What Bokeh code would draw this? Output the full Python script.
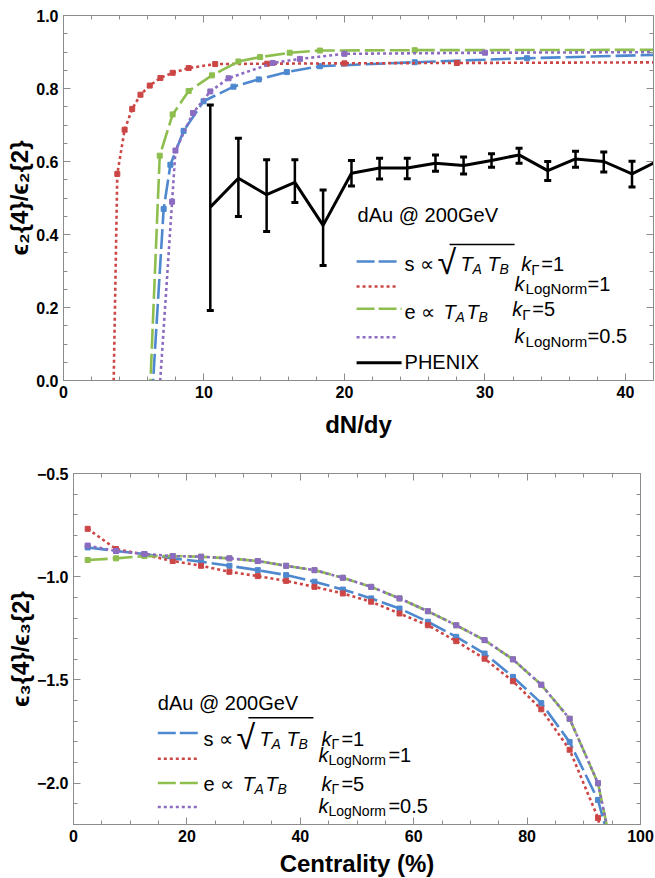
import numpy as np
from bokeh.plotting import figure
from bokeh.models import (LinearAxis, FixedTicker, Range1d, Label, Arrow,
                          Whisker, TeeHead, ColumnDataSource, BoxAnnotation)
from bokeh.embed import file_html
from bokeh.resources import INLINE

# ------------------------------------------------------------------ data (top)
red_x = [3.55, 3.83, 4.35, 4.89, 5.48, 6.14, 6.90, 7.77, 8.91, 10.8, 14.5, 20.0, 28.0, 45.0]
red_y = [-0.05, 0.566, 0.687, 0.744, 0.783, 0.808, 0.829, 0.843, 0.856, 0.867, 0.868, 0.869, 0.870, 0.872]
green_x = [6.14, 6.85, 7.77, 8.91, 10.57, 12.45, 14.0, 16.1, 18.25, 25.0, 45.0]
green_y = [-0.05, 0.616, 0.729, 0.793, 0.836, 0.874, 0.886, 0.898, 0.904, 0.905, 0.906]
blue_x = [6.30, 7.13, 7.61, 8.55, 9.97, 12.1, 13.9, 15.9, 18.25, 25.0, 33.0, 45.0]
blue_y = [-0.05, 0.470, 0.591, 0.684, 0.765, 0.805, 0.825, 0.845, 0.861, 0.872, 0.883, 0.895]
purple_x = [6.80, 7.73, 7.97, 9.22, 10.45, 11.75, 14.9, 16.83, 20.0, 30.0, 45.0]
purple_y = [-0.05, 0.490, 0.630, 0.733, 0.792, 0.828, 0.870, 0.881, 0.895, 0.898, 0.900]

ph_x = [10.45, 12.45, 14.46, 16.47, 18.48, 20.5, 22.5, 24.47, 26.48, 28.48, 30.47, 32.43, 34.47, 36.45, 38.46, 40.47, 42.48]
ph_y = [0.475, 0.554, 0.509, 0.543, 0.425, 0.568, 0.582, 0.582, 0.595, 0.589, 0.603, 0.618, 0.575, 0.607, 0.600, 0.566, 0.605]
ph_up = [0.755, 0.664, 0.605, 0.605, 0.522, 0.603, 0.609, 0.609, 0.618, 0.612, 0.621, 0.636, 0.600, 0.628, 0.626, 0.601, 0.635]
ph_lo = [0.192, 0.449, 0.408, 0.488, 0.315, 0.533, 0.552, 0.553, 0.573, 0.566, 0.584, 0.595, 0.548, 0.584, 0.571, 0.530, 0.575]

top_xticks = [0, 10, 20, 30, 40]
top_xlabels = ["0", "10", "20", "30", "40"]
top_yticks = [0.0, 0.2, 0.4, 0.6, 0.8, 1.0]
top_ylabels = ["0.0", "0.2", "0.4", "0.6", "0.8", "1.0"]

# ------------------------------------------------------------------ data (bottom)
cent = [2.5, 7.5, 12.5, 17.5, 22.5, 27.5, 32.5, 37.5, 42.5, 47.5, 52.5, 57.5, 62.5,
        67.5, 72.5, 77.5, 82.5, 87.5, 92.5]
b_blue = [-0.858, -0.875, -0.890, -0.911, -0.927, -0.947, -0.968, -0.992, -1.024, -1.062,
          -1.105, -1.154, -1.218, -1.291, -1.372, -1.485, -1.612, -1.801, -2.081]
b_red = [-0.768, -0.866, -0.893, -0.924, -0.947, -0.976, -0.997, -1.020, -1.049, -1.081,
         -1.121, -1.178, -1.235, -1.312, -1.397, -1.506, -1.642, -1.838, -2.168]
b_green = [-0.919, -0.911, -0.900, -0.900, -0.903, -0.911, -0.924, -0.947, -0.968, -1.005,
           -1.049, -1.105, -1.167, -1.235, -1.307, -1.400, -1.523, -1.688, -2.000]
b_purple = [-0.849, -0.875, -0.890, -0.900, -0.903, -0.911, -0.924, -0.947, -0.968, -1.005,
            -1.049, -1.105, -1.167, -1.235, -1.307, -1.400, -1.523, -1.688, -2.000]
# where each curve leaves the frame at the bottom
b_blue_end = (94.2, -2.25)
b_red_end = (93.1, -2.25)
b_green_end = (94.4, -2.25)
b_purple_end = (94.4, -2.25)

bot_xticks = [0, 20, 40, 60, 80, 100]
bot_xlabels = ["0", "20", "40", "60", "80", "100"]
bot_yticks = [-2.0, -1.5, -1.0, -0.5]
bot_ylabels = ["\u22122.0", "\u22121.5", "\u22121.0", "\u22120.5"]

# ------------------------------------------------------------------ style
FONT = "Liberation Sans"
GRAY = "#8c8c8c"
BLUE = "#4E88CF"
RED = "#CC4646"
GREEN = "#8DBE4E"
PURPLE = "#8C6CC0"
DASH = "20 5"
DOT = "3 3"
LW = 2.6


def style_axis(ax):
    ax.axis_line_color = GRAY
    ax.major_tick_line_color = GRAY
    ax.minor_tick_line_color = GRAY
    ax.major_tick_in = 7
    ax.major_tick_out = 0
    ax.minor_tick_in = 4
    ax.minor_tick_out = 0
    ax.major_label_text_font = FONT
    ax.major_label_text_font_style = "bold"
    ax.major_label_text_font_size = "16px"
    ax.major_label_text_color = "black"
    ax.major_label_standoff = 5
    ax.axis_label_text_font = FONT
    ax.axis_label_text_font_style = "bold"
    ax.axis_label_text_font_size = "24px"
    ax.axis_label_text_color = "black"


def tick_only_axis(p, side, positions, length):
    # an axis without major ticks: only (unlabelled) minor ticks at the given positions
    ax = LinearAxis(ticker=FixedTicker(ticks=[], minor_ticks=positions))
    ax.axis_line_color = GRAY
    ax.minor_tick_line_color = GRAY
    ax.minor_tick_in = length
    ax.minor_tick_out = 0
    ax.major_tick_in = 0
    ax.major_tick_out = 0
    ax.major_label_standoff = 0
    p.add_layout(ax, side)


def frame_axes(p, xt, xminor, xlab, yt, yminor, ylab, xtitle, ytitle, xstand, ystand):
    p.xaxis.ticker = FixedTicker(ticks=xt, minor_ticks=xminor)
    p.yaxis.ticker = FixedTicker(ticks=yt, minor_ticks=yminor)
    p.xaxis.major_label_overrides = {float(t): s for t, s in zip(xt, xlab)}
    p.yaxis.major_label_overrides = {float(t): s for t, s in zip(yt, ylab)}
    style_axis(p.xaxis[0])
    style_axis(p.yaxis[0])
    p.xaxis.axis_label = xtitle
    p.yaxis.axis_label = ytitle
    p.xaxis.axis_label_standoff = xstand
    p.yaxis.axis_label_standoff = ystand
    tick_only_axis(p, "above", [float(t) for t in xt], 7)
    tick_only_axis(p, "above", xminor, 4)
    tick_only_axis(p, "right", [float(t) for t in yt], 7)
    tick_only_axis(p, "right", yminor, 4)
    p.grid.visible = False
    p.outline_line_color = GRAY
    p.background_fill_color = "white"


def piece(p, ax, ay, dx, dy, text, size=20, style="normal"):
    p.add_layout(Label(x=ax, y=ay, x_offset=dx, y_offset=-dy, text=text,
                       text_font=FONT, text_font_size=f"{size}px",
                       text_font_style=style, text_color="black",
                       text_baseline="middle", text_align="left"))


def overbar(p, ax, ay, sx, sy, dx1, dx2, dy):
    p.add_layout(BoxAnnotation(left=ax + dx1 / sx, right=ax + dx2 / sx,
                               top=ay - (dy - 0.7) / sy, bottom=ay - (dy + 0.7) / sy,
                               fill_color="black", fill_alpha=1.0, line_color=None))


def key_line(p, ax, ay, sx, sy, dx1, dx2, dy, color, dash, width=2.5):
    # legend key sample
    y = ay - dy / sy
    p.add_layout(Arrow(start=None, end=None, x_start=ax + dx1 / sx, x_end=ax + dx2 / sx,
                       y_start=y, y_end=y, line_color=color, line_width=width,
                       line_dash=dash))


# ------------------------------------------------------------------ top figure
FW1, FH1 = 590, 365
p1 = figure(frame_width=FW1, frame_height=FH1, x_range=Range1d(0, 42), y_range=Range1d(0, 1),
            output_backend="svg", toolbar_location=None,
            min_border_left=63, min_border_right=1, min_border_top=15, min_border_bottom=58)
frame_axes(p1, top_xticks, [float(v) for v in np.arange(0, 43, 2.0)], top_xlabels,
           top_yticks, [float(v) for v in np.round(np.arange(0, 1.001, 0.05), 3)], top_ylabels,
           "dN/dy", "\u03f5\u2082{4}/\u03f5\u2082{2}", 10, 0)

p1.line(blue_x, blue_y, line_color=BLUE, line_width=LW, line_dash=DASH)
p1.scatter(blue_x, blue_y, marker="square", size=5, color=BLUE)
p1.line(red_x, red_y, line_color=RED, line_width=LW, line_dash=DOT)
p1.scatter(red_x, red_y, marker="square", size=5, color=RED)
p1.line(green_x, green_y, line_color=GREEN, line_width=LW, line_dash=DASH)
p1.scatter(green_x, green_y, marker="square", size=5, color=GREEN)
p1.line(purple_x, purple_y, line_color=PURPLE, line_width=LW, line_dash=DOT)
p1.scatter(purple_x, purple_y, marker="square", size=5, color=PURPLE)

p1.line(ph_x, ph_y, line_color="black", line_width=3)
inr = [i for i, v in enumerate(ph_x) if v <= 42]
wsrc = ColumnDataSource(dict(base=[ph_x[i] for i in inr], upper=[ph_up[i] for i in inr],
                             lower=[ph_lo[i] for i in inr]))
p1.add_layout(Whisker(source=wsrc, base="base", upper="upper", lower="lower",
                      line_color="black", line_width=2.5,
                      upper_head=TeeHead(size=7, line_width=3, line_color="black"),
                      lower_head=TeeHead(size=7, line_width=3, line_color="black")))

sx1, sy1 = FW1 / 42.0, FH1 / 1.0
ax1, ay1 = 24.28, 0.318
key_line(p1, ax1, ay1, sx1, sy1, -48, -6, -3, BLUE, "18 4")
key_line(p1, ax1, ay1, sx1, sy1, -48, -7, 22, RED, DOT)
key_line(p1, ax1, ay1, sx1, sy1, -48, -3, 44.3, GREEN, "18 4")
key_line(p1, ax1, ay1, sx1, sy1, -48, -7, 72.7, PURPLE, DOT)
key_line(p1, ax1, ay1, sx1, sy1, -48, -3, 98.3, "black", "solid", 3)
piece(p1, ax1, ay1, -47, -49, "dAu @ 200GeV")
piece(p1, ax1, ay1, 0, 0, "s \u221d")
piece(p1, ax1, ay1, 33, -2, "\u221a", 34)
overbar(p1, ax1, ay1, sx1, sy1, 45, 110, -20)
piece(p1, ax1, ay1, 56, 0, "T", 20, "italic")
piece(p1, ax1, ay1, 68, 5, "A", 14, "italic")
piece(p1, ax1, ay1, 83, 0, "T", 20, "italic")
piece(p1, ax1, ay1, 95, 5, "B", 14, "italic")
piece(p1, ax1, ay1, 116.7, 0, "k", 20, "italic")
piece(p1, ax1, ay1, 126.7, 5, "\u0393", 15)
piece(p1, ax1, ay1, 136.7, 0, "=1")
piece(p1, ax1, ay1, 110, 19.3, "k", 20, "italic")
piece(p1, ax1, ay1, 121, 24.3, "LogNorm", 15)
piece(p1, ax1, ay1, 183, 19.3, "=1")
piece(p1, ax1, ay1, 0, 47.5, "e \u221d")
piece(p1, ax1, ay1, 39, 47.5, "T", 20, "italic")
piece(p1, ax1, ay1, 51, 52.5, "A", 14, "italic")
piece(p1, ax1, ay1, 62, 47.5, "T", 20, "italic")
piece(p1, ax1, ay1, 74, 52.5, "B", 14, "italic")
piece(p1, ax1, ay1, 107.7, 45, "k", 20, "italic")
piece(p1, ax1, ay1, 117.7, 50, "\u0393", 15)
piece(p1, ax1, ay1, 127.7, 45, "=5")
piece(p1, ax1, ay1, 110, 71.7, "k", 20, "italic")
piece(p1, ax1, ay1, 121, 76.7, "LogNorm", 15)
piece(p1, ax1, ay1, 183, 71.7, "=0.5")
piece(p1, ax1, ay1, 0, 98, "PHENIX")

# ------------------------------------------------------------------ bottom figure
FW2, FH2 = 567, 351
p2 = figure(frame_width=FW2, frame_height=FH2, x_range=Range1d(0, 100), y_range=Range1d(-2.2, -0.5),
            output_backend="svg", toolbar_location=None,
            min_border_left=73, min_border_right=14, min_border_top=33, min_border_bottom=52)
frame_axes(p2, bot_xticks, [float(v) for v in np.arange(0, 101, 5.0)], bot_xlabels,
           bot_yticks, [float(v) for v in np.round(np.arange(-2.2, -0.499, 0.1), 3)], bot_ylabels,
           "Centrality (%)", "\u03f5\u2083{4}/\u03f5\u2083{2}", 5, 0)

p2.line(cent + [b_blue_end[0]], b_blue + [b_blue_end[1]], line_color=BLUE, line_width=LW, line_dash=DASH)
p2.scatter(cent, b_blue, marker="square", size=5, color=BLUE)
p2.line(cent + [b_red_end[0]], b_red + [b_red_end[1]], line_color=RED, line_width=LW, line_dash=DOT)
p2.scatter(cent, b_red, marker="square", size=5, color=RED)
p2.line(cent + [b_green_end[0]], b_green + [b_green_end[1]], line_color=GREEN, line_width=LW, line_dash=DASH)
p2.scatter(cent, b_green, marker="square", size=5, color=GREEN)
p2.line(cent + [b_purple_end[0]], b_purple + [b_purple_end[1]], line_color=PURPLE, line_width=LW, line_dash=DOT)
p2.scatter(cent, b_purple, marker="square", size=5, color=PURPLE)

sx2, sy2 = FW2 / 100.0, FH2 / 1.7
ax2, ay2 = 22.91, -1.785
key_line(p2, ax2, ay2, sx2, sy2, -45.6, -3.3, -5.7, BLUE, "18 4")
key_line(p2, ax2, ay2, sx2, sy2, -45.6, -5, 20, RED, DOT)
key_line(p2, ax2, ay2, sx2, sy2, -45.6, -3.3, 44.3, GREEN, "18 4")
key_line(p2, ax2, ay2, sx2, sy2, -45.6, -5, 68.3, PURPLE, DOT)
piece(p2, ax2, ay2, -45.6, -35.7, "dAu @ 200GeV")
piece(p2, ax2, ay2, 0, 0, "s \u221d")
piece(p2, ax2, ay2, 33, -2, "\u221a", 34)
overbar(p2, ax2, ay2, sx2, sy2, 45, 110, -21)
piece(p2, ax2, ay2, 56, 0, "T", 20, "italic")
piece(p2, ax2, ay2, 68, 5, "A", 14, "italic")
piece(p2, ax2, ay2, 83, 0, "T", 20, "italic")
piece(p2, ax2, ay2, 95, 5, "B", 14, "italic")
piece(p2, ax2, ay2, 118, 0, "k", 20, "italic")
piece(p2, ax2, ay2, 128, 5, "\u0393", 14)
piece(p2, ax2, ay2, 138, 0, "=1")
piece(p2, ax2, ay2, 115, 16.3, "k", 20, "italic")
piece(p2, ax2, ay2, 125, 21.3, "LogNorm", 14)
piece(p2, ax2, ay2, 185, 16.3, "=1")
piece(p2, ax2, ay2, 0, 45, "e \u221d")
piece(p2, ax2, ay2, 39, 45, "T", 20, "italic")
piece(p2, ax2, ay2, 51, 50, "A", 14, "italic")
piece(p2, ax2, ay2, 62, 45, "T", 20, "italic")
piece(p2, ax2, ay2, 74, 50, "B", 14, "italic")
piece(p2, ax2, ay2, 118, 45, "k", 20, "italic")
piece(p2, ax2, ay2, 128, 50, "\u0393", 14)
piece(p2, ax2, ay2, 138, 45, "=5")
piece(p2, ax2, ay2, 115, 67.3, "k", 20, "italic")
piece(p2, ax2, ay2, 125, 72.3, "LogNorm", 14)
piece(p2, ax2, ay2, 185, 67.3, "=0.5")

# two independent roots, stacked: each keeps its own frame position
open("out.html", "w").write(file_html([p1, p2], INLINE))
